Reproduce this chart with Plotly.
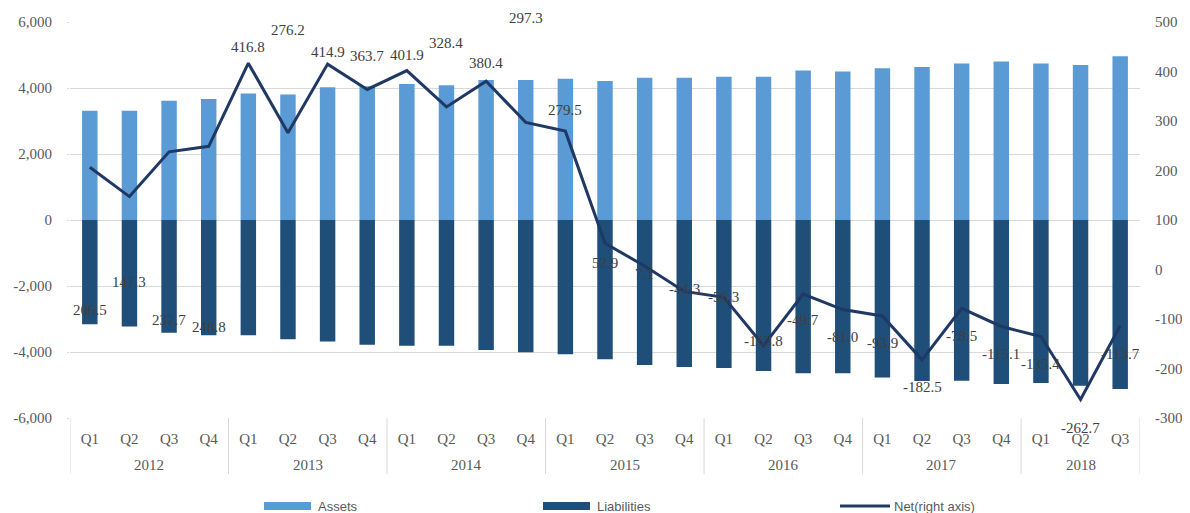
import plotly.graph_objects as go

years = ["2012"] * 4 + ["2013"] * 4 + ["2014"] * 4 + ["2015"] * 4 + ["2016"] * 4 + ["2017"] * 4 + ["2018"] * 3
quarters = ["Q1", "Q2", "Q3", "Q4"] * 6 + ["Q1", "Q2", "Q3"]

assets = [3310, 3310, 3610, 3670, 3830, 3800, 4020, 4050,
          4120, 4080, 4240, 4240, 4280, 4210, 4310, 4310,
          4340, 4340, 4530, 4500, 4600, 4640, 4740, 4800,
          4740, 4700, 4960]
liabilities = [-3160, -3230, -3420, -3495, -3495, -3615, -3680, -3780,
               -3810, -3810, -3940, -4010, -4070, -4220, -4395, -4455,
               -4485, -4575, -4645, -4645, -4770, -4880, -4870, -4970,
               -4940, -5020, -5120]
net = [206.5, 147.3, 237.7, 248.8, 416.8, 276.2, 414.9, 363.7,
       401.9, 328.4, 380.4, 297.3, 279.5, 52.9, 7.1, -44.3,
       -56.3, -153.8, -49.7, -81.0, -93.9, -182.5, -78.5, -115.1,
       -135.4, -262.7, -113.7]

left_ticks = [-6000, -4000, -2000, 0, 2000, 4000, 6000]
right_ticks = [-300, -200, -100, 0, 100, 200, 300, 400, 500]

# label pixel offsets (screen-down positive), styling only
label_dy = [143, 85, 168, 181, -16, -103, -12, -33, -16, -64, -18, -104,
            -21, 20, 8, -2, 0, -5, 26, 27, 27, 27, 28, 28, 27, 28, 28]

# page body has an 8px margin; size the figure so it fits the 1190x513 window
OFF = 8
W, H = 1190 - OFF, 513 - OFF
L, T = 70 - OFF, 22 - OFF
R = W - (1140 - OFF)
B = H - (418 - OFF)
PW, PH = W - L - R, H - T - B


def px(xp):  # window pixel x -> paper
    return (xp - OFF - L) / PW


def py(yp):  # window pixel y -> paper
    return (H - B - (yp - OFF)) / PH


def fmt(v):
    s = f"{abs(v):,}"
    return ("-" if v < 0 else "") + s


cats = [f"{y} {q}" for y, q in zip(years, quarters)]
serif = "Liberation Serif, Times New Roman, serif"
sans = "Liberation Sans Narrow, Liberation Sans, Arial, sans-serif"
grid = "#D9D9D9"
c_assets, c_liab, c_net = "#5B9BD5", "#1F4E79", "#1F3864"

fig = go.Figure()
fig.add_trace(go.Bar(x=cats, y=assets, name="Assets", marker_color=c_assets,
                     marker_line_width=0, width=0.39))
fig.add_trace(go.Bar(x=cats, y=liabilities, name="Liabilities", marker_color=c_liab,
                     marker_line_width=0, width=0.39))
fig.add_trace(go.Scatter(x=cats, y=net, name="Net(right axis)", yaxis="y2", mode="lines",
                         line=dict(color=c_net, width=3)))

# data labels
for i, v in enumerate(net):
    fig.add_annotation(x=i, y=v, xref="x", yref="y2", text=f"{v:.1f}", showarrow=False,
                       yshift=-label_dy[i], font=dict(family=serif, size=15, color="#404040"))

# year labels and dividers
groups = []
for i, yv in enumerate(years):
    if not groups or groups[-1][0] != yv:
        groups.append([yv, i, i])
    else:
        groups[-1][2] = i
for yv, a, b in groups:
    fig.add_annotation(x=(a + b) / 2, y=py(465), xref="x", yref="paper", text=yv,
                       showarrow=False, yanchor="middle",
                       font=dict(family=serif, size=15, color="#595959"))
    fig.add_shape(type="line", x0=a - 0.5, x1=a - 0.5, y0=0, y1=py(474), xref="x", yref="paper",
                  line=dict(color=grid, width=1))
fig.add_shape(type="line", x0=len(cats) - 0.5, x1=len(cats) - 0.5, y0=0, y1=py(474),
              xref="x", yref="paper", line=dict(color=grid, width=1))

# manual legend
legend_y = 506
for name, color, x0, x1, tx in [("Assets", c_assets, 264, 311, 316),
                                ("Liabilities", c_liab, 543, 590, 595)]:
    fig.add_shape(type="rect", x0=px(x0), x1=px(x1), y0=py(legend_y - 4), y1=py(legend_y + 4),
                  xref="paper", yref="paper", line=dict(width=0), fillcolor=color)
    fig.add_annotation(x=px(tx), y=py(legend_y), xref="paper", yref="paper", text=name,
                       showarrow=False, xanchor="left", yanchor="middle",
                       font=dict(family=sans, size=13, color="#595959"))
fig.add_shape(type="line", x0=px(840), x1=px(890), y0=py(legend_y), y1=py(legend_y),
              xref="paper", yref="paper", line=dict(color=c_net, width=3))
fig.add_annotation(x=px(892), y=py(legend_y), xref="paper", yref="paper", text="Net(right axis)",
                   showarrow=False, xanchor="left", yanchor="middle",
                   font=dict(family=sans, size=13, color="#595959"))

fig.update_layout(
    width=W, height=H,
    margin=dict(l=L, r=R, t=T, b=B),
    plot_bgcolor="white", paper_bgcolor="white",
    barmode="relative",
    showlegend=False,
    xaxis=dict(type="category", range=[-0.5, len(cats) - 0.5], showgrid=False, showline=False,
               tickvals=cats, ticktext=quarters, ticks="", automargin=False,
               ticklabelstandoff=10,
               tickfont=dict(family=serif, size=15, color="#595959")),
    yaxis=dict(range=[-6000, 6000], tickvals=left_ticks, ticktext=[fmt(v) for v in left_ticks],
               showgrid=True, gridcolor=grid, zeroline=True, zerolinecolor=grid, zerolinewidth=1,
               automargin=False, ticks="outside", ticklen=2, tickcolor=grid, ticklabelstandoff=12,
               tickfont=dict(family=serif, size=15, color="#595959")),
    yaxis2=dict(range=[-300, 500], tickvals=right_ticks, ticktext=[fmt(v) for v in right_ticks],
                overlaying="y", side="right", showgrid=False, zeroline=False, automargin=False,
                ticks="", ticklabelstandoff=14,
                tickfont=dict(family=serif, size=15, color="#595959")),
)

fig.write_html("out.html")
